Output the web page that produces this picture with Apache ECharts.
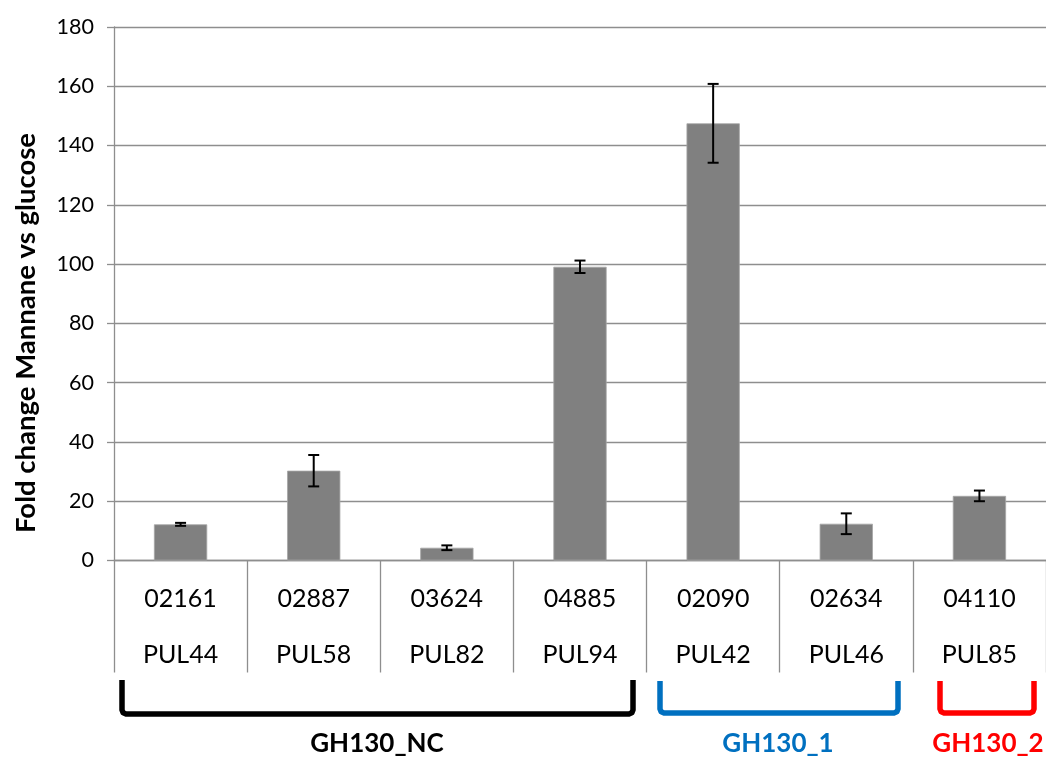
<!DOCTYPE html>
<html>
<head>
<meta charset="utf-8">
<script src="https://cdn.jsdelivr.net/npm/echarts@6/dist/echarts.min.js"></script>
<style>
html,body{margin:0;padding:0;background:#fff;}
#c{width:1046px;height:758px;}
</style>
</head>
<body>
<div id="c"></div>
<script>
const geneIds = ['02161','02887','03624','04885','02090','02634','04110'];
const pulIds = ['PUL44','PUL58','PUL82','PUL94','PUL42','PUL46','PUL85'];
const foldChange = [12.2, 30.3, 4.3, 99.1, 147.5, 12.4, 21.8];
const errorSD = [0.5, 5.3, 0.8, 2.1, 13.3, 3.5, 1.8];
const yTicks = [0, 20, 40, 60, 80, 100, 120, 140, 160, 180];
const groupNames = ['GH130_NC', 'GH130_1', 'GH130_2'];
const groupColors = ['#000000', '#0070C0', '#FF0000'];

const FONT = 'Lato, "Open Sans", sans-serif';
const categories = geneIds.map((g, i) => g + '\n' + pulIds[i]);
const errData = foldChange.map((v, i) => [i, v - errorSD[i], v + errorSD[i]]);

const chart = echarts.init(document.getElementById('c'), null, {renderer: 'canvas'});

function bracket(x1, x2, yTop, yBot, color) {
  const r = 4;
  const pts = [
    [x1, yTop], [x1, yBot - r], [x1 + 1.2, yBot - 1.2], [x1 + r, yBot],
    [x2 - r, yBot], [x2 - 1.2, yBot - 1.2], [x2, yBot - r], [x2, yTop]
  ];
  return {
    type: 'polyline',
    shape: {points: pts},
    style: {stroke: color, lineWidth: 5.5, fill: null, lineJoin: 'round', lineCap: 'butt'}
  };
}

const option = {
  animation: false,
  backgroundColor: '#ffffff',
  grid: {left: 114, top: 27, width: 934.5, height: 533.5, containLabel: false},
  xAxis: {
    type: 'category',
    data: categories,
    axisLine: {show: true, lineStyle: {color: '#8e8e8e', width: 1.3}},
    axisTick: {show: true, alignWithLabel: false, length: 112, lineStyle: {color: '#8e8e8e', width: 1.3}},
    axisLabel: {
      margin: 10,
      fontFamily: FONT,
      fontSize: 25,
      color: '#000',
      lineHeight: 56,
      interval: 0
    },
    splitLine: {show: false}
  },
  yAxis: {
    type: 'value',
    min: yTicks[0],
    max: yTicks[yTicks.length - 1],
    interval: yTicks[1] - yTicks[0],
    axisLine: {show: true, lineStyle: {color: '#8e8e8e', width: 1.3}},
    axisTick: {show: true, inside: false, length: 7, lineStyle: {color: '#8e8e8e', width: 1.3}},
    axisLabel: {margin: 20, fontFamily: FONT, fontSize: 21.5, color: '#000'},
    splitLine: {show: true, lineStyle: {color: '#8e8e8e', width: 1.3}}
  },
  series: [
    {
      type: 'bar',
      data: foldChange,
      barWidth: '40%',
      itemStyle: {color: '#808080', borderColor: '#a6a6a6', borderWidth: 0.8}
    },
    {
      type: 'custom',
      data: errData,
      z: 10,
      renderItem: function (params, api) {
        const x = api.value(0);
        const lo = api.coord([x, api.value(1)]);
        const hi = api.coord([x, api.value(2)]);
        const cap = 5.5;
        const st = {stroke: '#000', lineWidth: 2};
        return {
          type: 'group',
          children: [
            {type: 'line', shape: {x1: hi[0], y1: hi[1], x2: lo[0], y2: lo[1]}, style: st},
            {type: 'line', shape: {x1: hi[0] - cap, y1: hi[1], x2: hi[0] + cap, y2: hi[1]}, style: st},
            {type: 'line', shape: {x1: lo[0] - cap, y1: lo[1], x2: lo[0] + cap, y2: lo[1]}, style: st}
          ]
        };
      }
    }
  ],
  graphic: [
    {
      type: 'text',
      x: 26, y: 333,
      rotation: Math.PI / 2,
      style: {
        text: 'Fold change Mannane vs glucose',
        font: 'bold 27.5px ' + FONT,
        fill: '#000',
        align: 'center',
        verticalAlign: 'middle'
      }
    },
    bracket(122, 633, 680, 714, groupColors[0]),
    bracket(660, 898, 681, 713, groupColors[1]),
    bracket(940, 1034, 681, 713, groupColors[2]),
    {type: 'text', x: 377, y: 744, style: {text: groupNames[0], font: 'bold 26px ' + FONT, fill: groupColors[0], align: 'center', verticalAlign: 'middle'}},
    {type: 'text', x: 778, y: 744, style: {text: groupNames[1], font: 'bold 26px ' + FONT, fill: groupColors[1], align: 'center', verticalAlign: 'middle'}},
    {type: 'text', x: 988, y: 744, style: {text: groupNames[2], font: 'bold 26px ' + FONT, fill: groupColors[2], align: 'center', verticalAlign: 'middle'}}
  ]
};
chart.setOption(option);
</script>
</body>
</html>
